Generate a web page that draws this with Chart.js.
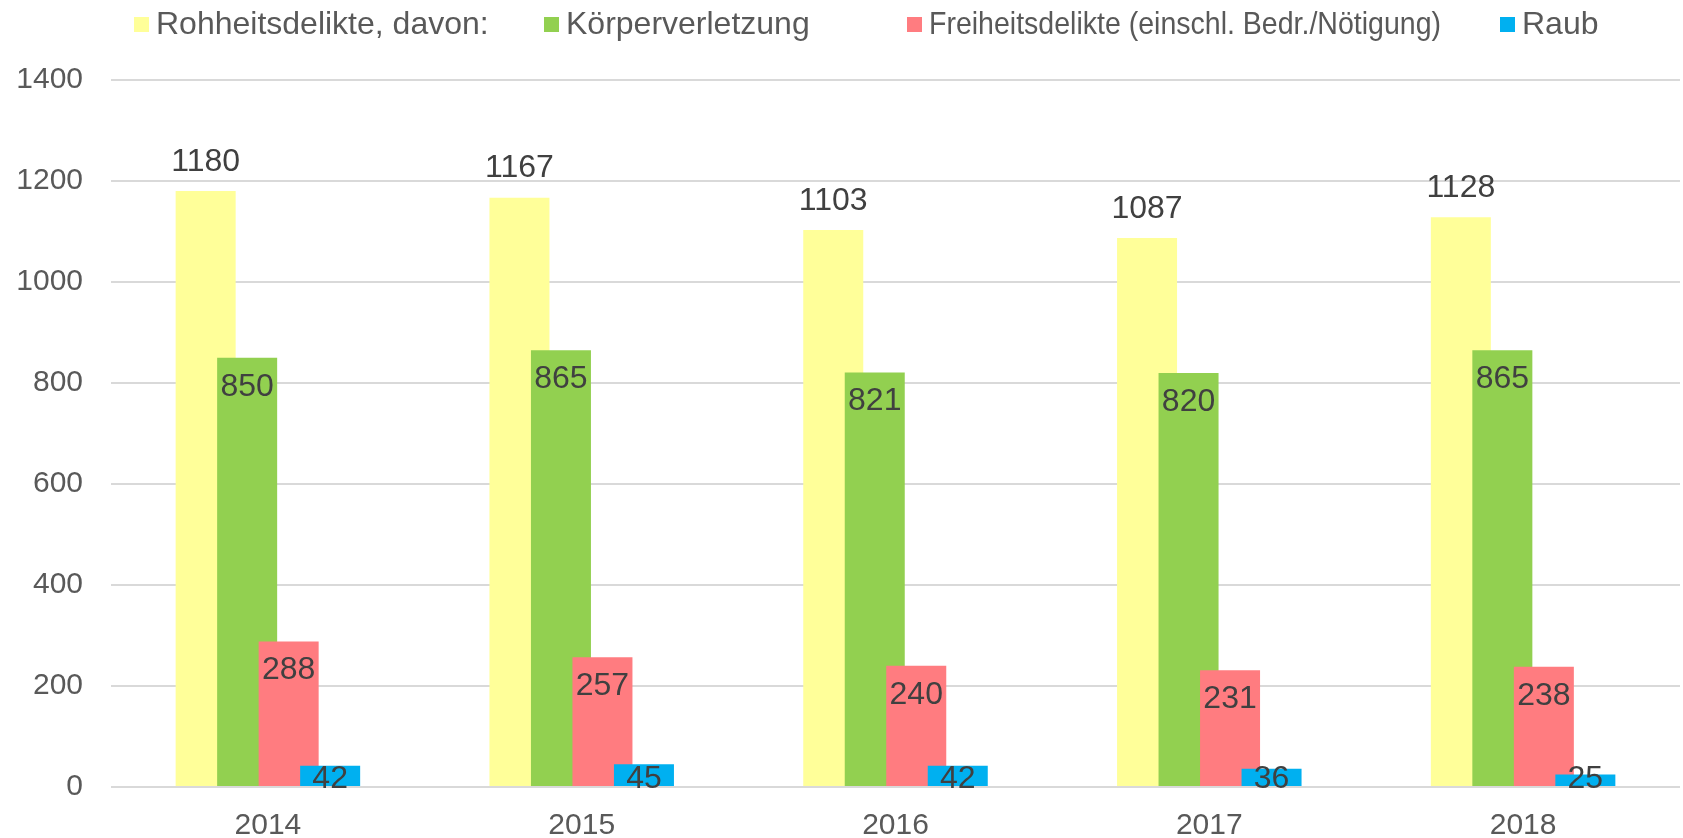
<!DOCTYPE html>
<html>
<head>
<meta charset="utf-8">
<script src="https://cdn.jsdelivr.net/npm/chart.js@4"></script>
<style>
  html, body { margin: 0; padding: 0; background: #fff; }
  #wrap { width: 1683px; height: 838px; }
</style>
</head>
<body>
<div id="wrap"><canvas id="chart"></canvas></div>
<script>
// Data
const years = ['2014', '2015', '2016', '2017', '2018'];
const seriesNames = ['Rohheitsdelikte, davon:', 'Körperverletzung', 'Freiheitsdelikte (einschl. Bedr./Nötigung)', 'Raub'];
const rohheit = [1180, 1167, 1103, 1087, 1128];
const koerper = [850, 865, 821, 820, 865];
const freiheit = [288, 257, 240, 231, 238];
const raub = [42, 45, 42, 36, 25];
const yTicks = [0, 200, 400, 600, 800, 1000, 1200, 1400];

const colors = ['#FFFF99', '#92D050', '#FF7C80', '#00B0F0'];
const FONT = 'Liberation Sans, Arial, sans-serif';

// Legend layout (Excel puts entries in fixed columns)
const legendX = [134, 544, 907, 1500];
const legendTextMax = [340, 260, 512, 100];
const legendY = 24;

// Draw datasets in index order so later series overlap earlier ones (like Excel)
const drawOrderPlugin = {
    id: 'drawOrder',
    beforeDatasetsDraw(chart) {
        const ctx = chart.ctx;
        const area = chart.chartArea;
        ctx.save();
        ctx.beginPath();
        ctx.rect(area.left, area.top - 50, area.right - area.left, area.bottom - area.top + 50);
        ctx.clip();
        chart.data.datasets.forEach((ds, i) => {
            const meta = chart.getDatasetMeta(i);
            if (!meta.hidden) meta.controller.draw();
        });
        ctx.restore();
        return false;
    }
};

// Value labels: outside end for the first series, inside end for the rest
const valueLabelPlugin = {
    id: 'valueLabels',
    afterDraw(chart) {
        const ctx = chart.ctx;
        ctx.save();
        ctx.font = '32px ' + FONT;
        ctx.fillStyle = '#404040';
        ctx.textAlign = 'center';
        ctx.textBaseline = 'middle';
        chart.data.datasets.forEach((ds, i) => {
            const meta = chart.getDatasetMeta(i);
            meta.data.forEach((bar, j) => {
                let y;
                if (i === 0) {
                    y = bar.y - 29;
                } else {
                    y = Math.min(bar.y + 29, bar.base - 7);
                }
                ctx.fillText(String(ds.data[j]), bar.x, y);
            });
        });
        ctx.restore();
    }
};

// Legend drawn in Excel's column layout
const legendPlugin = {
    id: 'excelLegend',
    afterDraw(chart) {
        const ctx = chart.ctx;
        ctx.save();
        ctx.font = '32px ' + FONT;
        ctx.textAlign = 'left';
        ctx.textBaseline = 'middle';
        chart.data.datasets.forEach((ds, i) => {
            const x = legendX[i];
            ctx.fillStyle = ds.backgroundColor;
            ctx.fillRect(x, legendY - 7, 15, 15);
            ctx.fillStyle = '#595959';
            ctx.fillText(ds.label, x + 22, legendY + 1, legendTextMax[i]);
        });
        ctx.restore();
    }
};

function initializeChart() {
    const ctx = document.getElementById('chart').getContext('2d');
    const allData = [rohheit, koerper, freiheit, raub];
    new Chart(ctx, {
        type: 'bar',
        data: {
            labels: years,
            datasets: allData.map((d, i) => ({
                label: seriesNames[i],
                data: d,
                backgroundColor: colors[i],
                borderWidth: 0,
                categoryPercentage: 0.529,
                barPercentage: 1.446
            }))
        },
        options: {
            responsive: true,
            maintainAspectRatio: false,
            animation: false,
            layout: { padding: { left: 0, right: 3, top: 80, bottom: 0 } },
            plugins: {
                legend: { display: false },
                tooltip: { enabled: false }
            },
            scales: {
                x: {
                    grid: { display: false, drawTicks: false },
                    border: { display: false },
                    ticks: {
                        color: '#595959',
                        padding: 21,
                        font: { family: FONT, size: 30 }
                    },
                    afterFit(scale) { scale.height = 51; }
                },
                y: {
                    min: 0,
                    max: 1400,
                    afterBuildTicks(scale) {
                        scale.ticks = yTicks.map(v => ({ value: v }));
                    },
                    grid: { color: '#D9D9D9', lineWidth: 2, drawTicks: false },
                    border: { display: false },
                    ticks: {
                        color: '#595959',
                        padding: 28,
                        font: { family: FONT, size: 30 },
                        callback: (v) => String(v)
                    },
                    afterFit(scale) { scale.width = 111; }
                }
            }
        },
        plugins: [drawOrderPlugin, valueLabelPlugin, legendPlugin]
    });
}

document.addEventListener('DOMContentLoaded', initializeChart);
</script>
</body>
</html>
